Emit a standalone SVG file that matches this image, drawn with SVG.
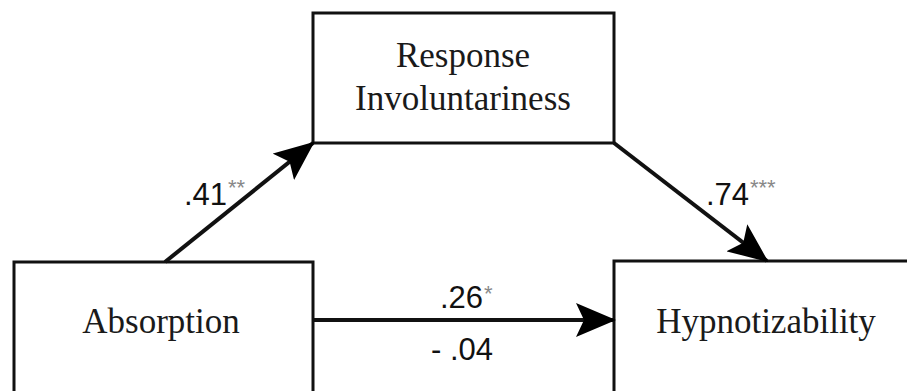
<svg xmlns="http://www.w3.org/2000/svg" width="907" height="391" viewBox="0 0 907 391">
<style>
.box{fill:#fff;stroke:#111;stroke-width:3}
.lbl{font-family:"Liberation Serif","Times New Roman",serif;font-size:35px;fill:#1a1a1a;text-anchor:middle}
.num{font-family:"Liberation Sans",Arial,sans-serif;font-size:31px;fill:#111}
.sup{font-family:"Liberation Sans",Arial,sans-serif;font-size:22px;fill:#888}
.edge{stroke:#111;stroke-width:4;fill:none}
</style>
<defs>
<marker id="ah" viewBox="0 0 40 34" refX="38" refY="17" markerWidth="40" markerHeight="34" markerUnits="userSpaceOnUse" orient="auto">
<path d="M0,0 L40,17 L0,34 L8,17 Z" fill="#000"/>
</marker>
</defs>
<g id="node-response">
<rect class="box" x="313" y="13" width="301" height="130"/>
<text class="lbl" x="463" y="67">Response</text>
<text class="lbl" x="463" y="110">Involuntariness</text>
</g>
<g id="node-absorption">
<rect class="box" x="14" y="262" width="299" height="160"/>
<text class="lbl" x="161" y="333">Absorption</text>
</g>
<g id="node-hypnotizability">
<rect class="box" x="614" y="261" width="320" height="160"/>
<text class="lbl" x="766" y="333">Hypnotizability</text>
</g>
<g id="connectors">
<line class="edge" x1="165" y1="262" x2="313" y2="143" marker-end="url(#ah)"/>
<line class="edge" x1="614" y1="143" x2="767" y2="261" marker-end="url(#ah)"/>
<line class="edge" x1="313" y1="320" x2="614" y2="320" marker-end="url(#ah)"/>
<text class="num" x="184" y="205">.41</text>
<text class="sup" x="228" y="195">**</text>
<text class="num" x="706" y="205">.74</text>
<text class="sup" x="750" y="195">***</text>
<text class="num" x="440" y="308">.26</text>
<text class="sup" x="484" y="301">*</text>
<text class="num" x="431" y="360">- .04</text>
</g>
</svg>
